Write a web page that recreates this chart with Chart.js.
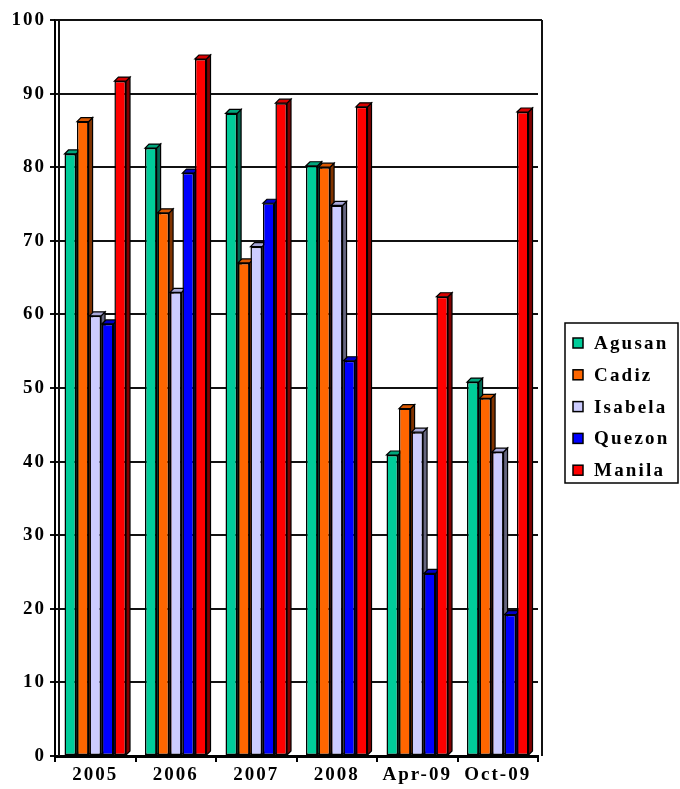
<!DOCTYPE html>
<html>
<head>
<meta charset="utf-8">
<script src="https://cdn.jsdelivr.net/npm/chart.js@4.4.1/dist/chart.umd.min.js"></script>
<style>
  html, body { margin: 0; padding: 0; background: #fff; }
  #wrap { width: 680px; height: 789px; position: relative; }
</style>
</head>
<body>
<div id="wrap"><canvas id="c" width="680" height="789"></canvas></div>
<script>
const categories = ['2005', '2006', '2007', '2008', 'Apr-09', 'Oct-09'];
const seriesNames = ['Agusan', 'Cadiz', 'Isabela', 'Quezon', 'Manila'];
const agusan  = [81.8, 82.6, 87.3, 80.2, 40.9, 50.8];
const cadiz   = [86.2, 73.8, 67.0, 80.0, 47.2, 48.6];
const isabela = [59.8, 63.0, 69.2, 74.8, 44.0, 41.3];
const quezon  = [58.7, 79.2, 75.1, 53.7, 24.8, 19.2];
const manila  = [91.7, 94.7, 88.7, 88.2, 62.4, 87.5];
const yTicks  = [0, 10, 20, 30, 40, 50, 60, 70, 80, 90, 100];

const frontColors = ['#00CC99', '#FF6600', '#CCCCFF', '#0000FF', '#FF0000'];
const topColors   = ['#00A67C', '#D95700', '#A8A8D8', '#0000C8', '#D80000'];
const sideColors  = ['#006650', '#803300', '#66667F', '#000080', '#800000'];
const seriesValues = [agusan, cadiz, isabela, quezon, manila];

const FONT = { family: "'Liberation Serif', 'Times New Roman', serif", size: 19, weight: 'bold' };
const DEPTH = 4;

const datasets = seriesNames.map((name, i) => ({
  label: name,
  data: seriesValues[i],
  backgroundColor: frontColors[i],
  borderColor: '#000',
  borderWidth: 1.5,
  borderSkipped: false,
  categoryPercentage: 0.775,
  barPercentage: 0.93
}));

const spacingPlugin = {
  id: 'spacing',
  beforeDraw(chart) { chart.ctx.letterSpacing = '2px'; }
};

const bar3d = {
  id: 'bar3d',
  beforeDatasetsDraw(chart) {
    const ctx = chart.ctx;
    ctx.save();
    ctx.lineWidth = 1.2;
    ctx.strokeStyle = '#000';
    const n = chart.data.labels.length;
    for (let j = 0; j < n; j++) {
      chart.data.datasets.forEach((ds, i) => {
        const meta = chart.getDatasetMeta(i);
        const el = meta.data[j];
        if (!el) return;
        const l = el.x - el.width / 2, r = el.x + el.width / 2;
        const top = el.y, base = el.base;
        // side face
        ctx.beginPath();
        ctx.moveTo(r, top);
        ctx.lineTo(r + DEPTH, top - DEPTH);
        ctx.lineTo(r + DEPTH, base - DEPTH);
        ctx.lineTo(r, base);
        ctx.closePath();
        ctx.fillStyle = sideColors[i];
        ctx.fill();
        ctx.stroke();
        // top face
        ctx.beginPath();
        ctx.moveTo(l, top);
        ctx.lineTo(l + DEPTH, top - DEPTH);
        ctx.lineTo(r + DEPTH, top - DEPTH);
        ctx.lineTo(r, top);
        ctx.closePath();
        ctx.fillStyle = topColors[i];
        ctx.fill();
        ctx.stroke();
      });
    }
    ctx.restore();
  }
};

const framePlugin = {
  id: 'frame',
  beforeDatasetsDraw(chart) {
    const { ctx, chartArea: a } = chart;
    ctx.save();
    ctx.strokeStyle = '#111';
    ctx.lineWidth = 2;
    ctx.beginPath();
    ctx.moveTo(a.right + 4, a.top);
    ctx.lineTo(a.right + 4, a.bottom);
    ctx.moveTo(a.left + 4, a.top);
    ctx.lineTo(a.left + 4, a.bottom);
    ctx.moveTo(a.left, a.top);
    ctx.lineTo(a.right + 4, a.top);
    ctx.stroke();
    ctx.restore();
  }
};

const legendPlugin = {
  id: 'boxLegend',
  afterDraw(chart) {
    const ctx = chart.ctx;
    ctx.save();
    ctx.letterSpacing = '2.2px';
    const bx = 565, by = 323, bw = 113, bh = 160;
    ctx.strokeStyle = '#000';
    ctx.lineWidth = 1.5;
    ctx.fillStyle = '#fff';
    ctx.fillRect(bx, by, bw, bh);
    ctx.strokeRect(bx, by, bw, bh);
    ctx.font = `bold ${FONT.size}px ${FONT.family}`;
    ctx.textBaseline = 'middle';
    ctx.textAlign = 'left';
    chart.data.datasets.forEach((ds, i) => {
      const cy = by + 20 + i * 31.8;
      ctx.fillStyle = ds.backgroundColor;
      ctx.fillRect(bx + 8, cy - 5, 10, 10);
      ctx.lineWidth = 1.5;
      ctx.strokeRect(bx + 8, cy - 5, 10, 10);
      ctx.fillStyle = '#000';
      ctx.fillText(ds.label, bx + 29, cy + 1);
    });
    ctx.restore();
  }
};

new Chart(document.getElementById('c'), {
  type: 'bar',
  data: { labels: categories, datasets },
  options: {
    responsive: false,
    animation: false,
    devicePixelRatio: 1,
    layout: { padding: { top: 20, right: 142, left: 0, bottom: 0 } },
    plugins: { legend: { display: false }, tooltip: { enabled: false } },
    scales: {
      x: {
        grid: { display: true, drawOnChartArea: false, offset: true, tickLength: 6, color: '#000', lineWidth: 2 },
        border: { display: true, color: '#000', width: 3 },
        ticks: { color: '#000', font: FONT, padding: 2, maxRotation: 0 },
        afterFit(scale) { scale.height = 33; }
      },
      y: {
        min: 0, max: 100,
        afterBuildTicks(scale) { scale.ticks = yTicks.map(v => ({ value: v })); },
        grid: { color: '#111', lineWidth: 2, tickLength: 5 },
        border: { display: true, color: '#000', width: 2 },
        ticks: { color: '#000', font: FONT, padding: 4 },
        afterFit(scale) { scale.width = 55; }
      }
    }
  },
  plugins: [spacingPlugin, framePlugin, bar3d, legendPlugin]
});
</script>
</body>
</html>
